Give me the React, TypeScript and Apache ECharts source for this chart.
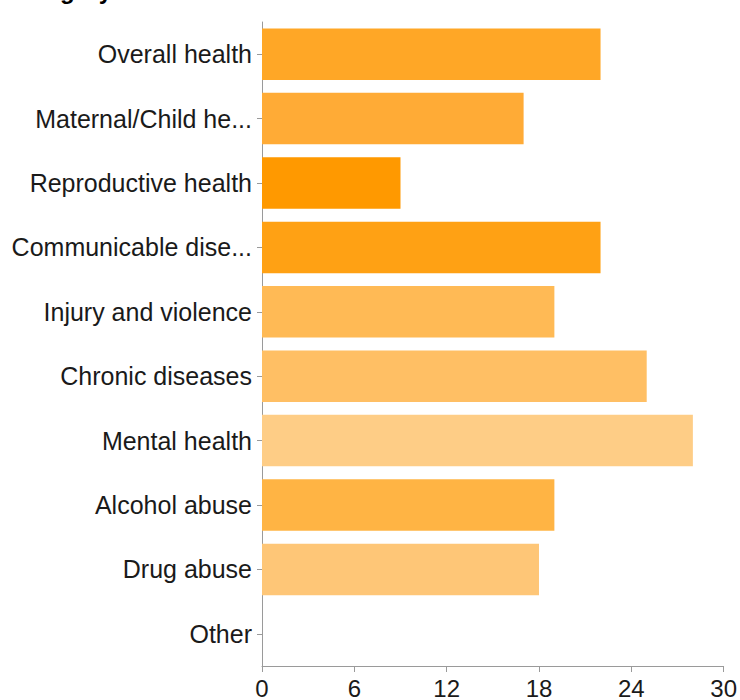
import React, { useEffect, useRef } from "react";
import * as echarts from "echarts";

const categories = [
  "Overall health",
  "Maternal/Child he...",
  "Reproductive health",
  "Communicable dise...",
  "Injury and violence",
  "Chronic diseases",
  "Mental health",
  "Alcohol abuse",
  "Drug abuse",
  "Other",
];
const values = [22, 17, 9, 22, 19, 25, 28, 19, 18, 0];
const barColors = [
  "#FFA726",
  "#FFAB36",
  "#FF9900",
  "#FFA114",
  "#FFBA55",
  "#FFBF64",
  "#FECD86",
  "#FFB444",
  "#FEC677",
  "#FED9A6",
];
const xTicks = [0, 6, 12, 18, 24, 30];
const titleText = "Category";

const FONT = '"Liberation Sans", Arial, Helvetica, sans-serif';

export default function App() {
  const ref = useRef<HTMLDivElement>(null);
  useEffect(() => {
    if (!ref.current) return;
    const chart = echarts.init(ref.current, undefined, { renderer: "svg" });
    chart.setOption({
      animation: false,
      backgroundColor: "#ffffff",
      graphic: [
        {
          type: "text",
          left: 8,
          top: -22,
          style: {
            text: titleText,
            font: `bold 24px ${FONT}`,
            fill: "#000",
          },
        },
      ],
      grid: { left: 262, right: 16, top: 22, bottom: 32, containLabel: false },
      xAxis: {
        type: "value",
        min: xTicks[0],
        max: xTicks[xTicks.length - 1],
        interval: 6,
        axisLine: { show: true, lineStyle: { color: "#9a9a9a", width: 1 } },
        axisTick: { show: true, length: 6, lineStyle: { color: "#9a9a9a" } },
        splitLine: { show: false },
        axisLabel: { color: "#1a1a1a", fontSize: 24, fontFamily: FONT, margin: 10 },
      },
      yAxis: {
        type: "category",
        data: categories,
        inverse: true,
        axisLine: { show: true, lineStyle: { color: "#9a9a9a", width: 1 } },
        axisTick: { show: true, length: 5, alignWithLabel: true, lineStyle: { color: "#9a9a9a" } },
        axisLabel: {
          color: "#1a1a1a",
          fontSize: 25,
          fontFamily: FONT,
          margin: 10,
          padding: [4, 0, 0, 0],
        },
        splitLine: { show: false },
      },
      series: [
        {
          type: "bar",
          barCategoryGap: "20%",
          data: values.map((v, i) => ({ value: v, itemStyle: { color: barColors[i] } })),
        },
      ],
    });
    return () => chart.dispose();
  }, []);
  return (
    <div
      ref={ref}
      style={{ position: "absolute", left: 0, top: 0, width: 740, height: 700 }}
    />
  );
}
